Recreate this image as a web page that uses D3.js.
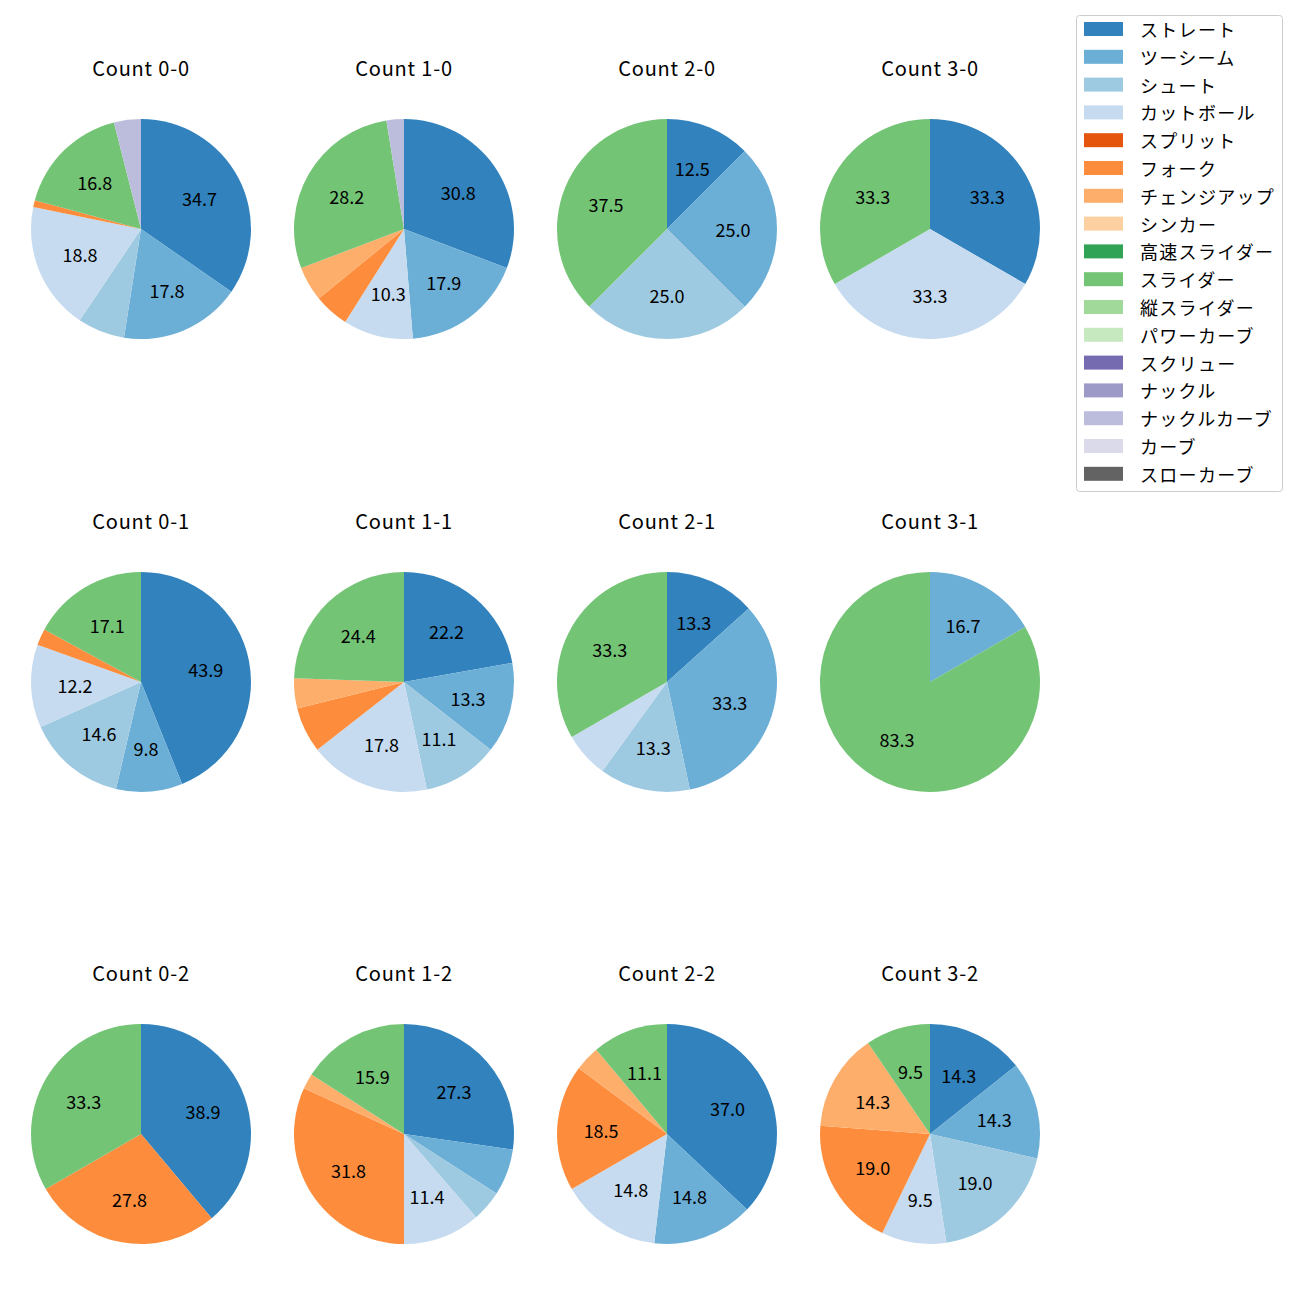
<!DOCTYPE html>
<html><head><meta charset="utf-8">
<script src="https://cdn.jsdelivr.net/npm/d3@7"></script>
<style>body{margin:0;background:#fff;} text{font-family:"Noto Sans CJK JP","Noto Sans",sans-serif;}</style>
</head><body>
<svg id="c" width="1300" height="1300"></svg>
<script>
const pitchTypes = ["ストレート","ツーシーム","シュート","カットボール","スプリット","フォーク","チェンジアップ","シンカー","高速スライダー","スライダー","縦スライダー","パワーカーブ","スクリュー","ナックル","ナックルカーブ","カーブ","スローカーブ"];
const pitchColors = ["#3182bd","#6baed6","#9ecae1","#c6dbef","#e6550d","#fd8d3c","#fdae6b","#fdd0a2","#31a354","#74c476","#a1d99b","#c7e9c0","#756bb1","#9e9ac8","#bcbddc","#dadaeb","#636363"];
const counts = ["0-0","1-0","2-0","3-0","0-1","1-1","2-1","3-1","0-2","1-2","2-2","3-2"];
// pitch counts per type, in pitchTypes order
const c00 = [35,18,7,19,0,1,0,0,0,17,0,0,0,0,4,0,0];
const c10 = [12,7,0,4,0,2,2,0,0,11,0,0,0,0,1,0,0];
const c20 = [1,2,2,0,0,0,0,0,0,3,0,0,0,0,0,0,0];
const c30 = [1,0,0,1,0,0,0,0,0,1,0,0,0,0,0,0,0];
const c01 = [18,4,6,5,0,1,0,0,0,7,0,0,0,0,0,0,0];
const c11 = [10,6,5,8,0,3,2,0,0,11,0,0,0,0,0,0,0];
const c21 = [2,5,2,1,0,0,0,0,0,5,0,0,0,0,0,0,0];
const c31 = [0,1,0,0,0,0,0,0,0,5,0,0,0,0,0,0,0];
const c02 = [7,0,0,0,0,5,0,0,0,6,0,0,0,0,0,0,0];
const c12 = [12,3,2,5,0,14,1,0,0,7,0,0,0,0,0,0,0];
const c22 = [10,4,0,4,0,5,1,0,0,3,0,0,0,0,0,0,0];
const c32 = [3,3,4,2,0,4,3,0,0,2,0,0,0,0,0,0,0];
const countData = [c00,c10,c20,c30,c01,c11,c21,c31,c02,c12,c22,c32];

const svg = d3.select("#c");
const colX = [141, 404, 667, 930];
const rowY = [229, 682, 1134];
const R = 110;
const color = d3.scaleOrdinal().domain(pitchTypes).range(pitchColors);
const pie = d3.pie().sort(null).value(d => d.v).startAngle(0).endAngle(2*Math.PI);
const arc = d3.arc().innerRadius(0).outerRadius(R);
const labelArc = d3.arc().innerRadius(R*0.6).outerRadius(R*0.6);

counts.forEach((cnt, i) => {
  const cx = colX[i % 4], cy = rowY[Math.floor(i / 4)];
  const g = svg.append("g").attr("transform", `translate(${cx},${cy})`);
  const data = pitchTypes.map((t, k) => ({t, v: countData[i][k]})).filter(d => d.v > 0);
  const total = d3.sum(data, d => d.v);
  const arcs = pie(data);
  g.selectAll("path").data(arcs).join("path")
    .attr("d", arc).attr("fill", d => color(d.data.t));
  g.selectAll("text.lbl").data(arcs.filter(d => d.data.v / total * 100 >= 8)).join("text")
    .attr("class","lbl")
    .attr("transform", d => `translate(${labelArc.centroid(d)})`)
    .attr("text-anchor","middle").attr("dominant-baseline","central")
    .attr("font-size", 18).attr("fill","#000")
    .text(d => (d.data.v / total * 100).toFixed(1));
  svg.append("text").attr("x", cx).attr("y", cy - 162)
    .attr("text-anchor","middle").attr("dominant-baseline","central")
    .attr("font-size", 20).attr("letter-spacing", 0.8).attr("fill","#000")
    .text("Count " + cnt);
});

// legend
const lg = svg.append("g");
lg.append("rect").attr("x",1076.5).attr("y",15.5).attr("width",206).attr("height",476)
  .attr("rx",3).attr("fill","#fff").attr("stroke","#ccc");
pitchTypes.forEach((t, k) => {
  const y = 29 + k * 27.8;
  lg.append("rect").attr("x",1084).attr("y",y-7).attr("width",39).attr("height",14).attr("fill",color(t));
  lg.append("text").attr("x",1140).attr("y",y).attr("dominant-baseline","central")
    .attr("font-size",18).attr("letter-spacing",1.3).attr("fill","#000").text(t);
});
</script>
</body></html>
